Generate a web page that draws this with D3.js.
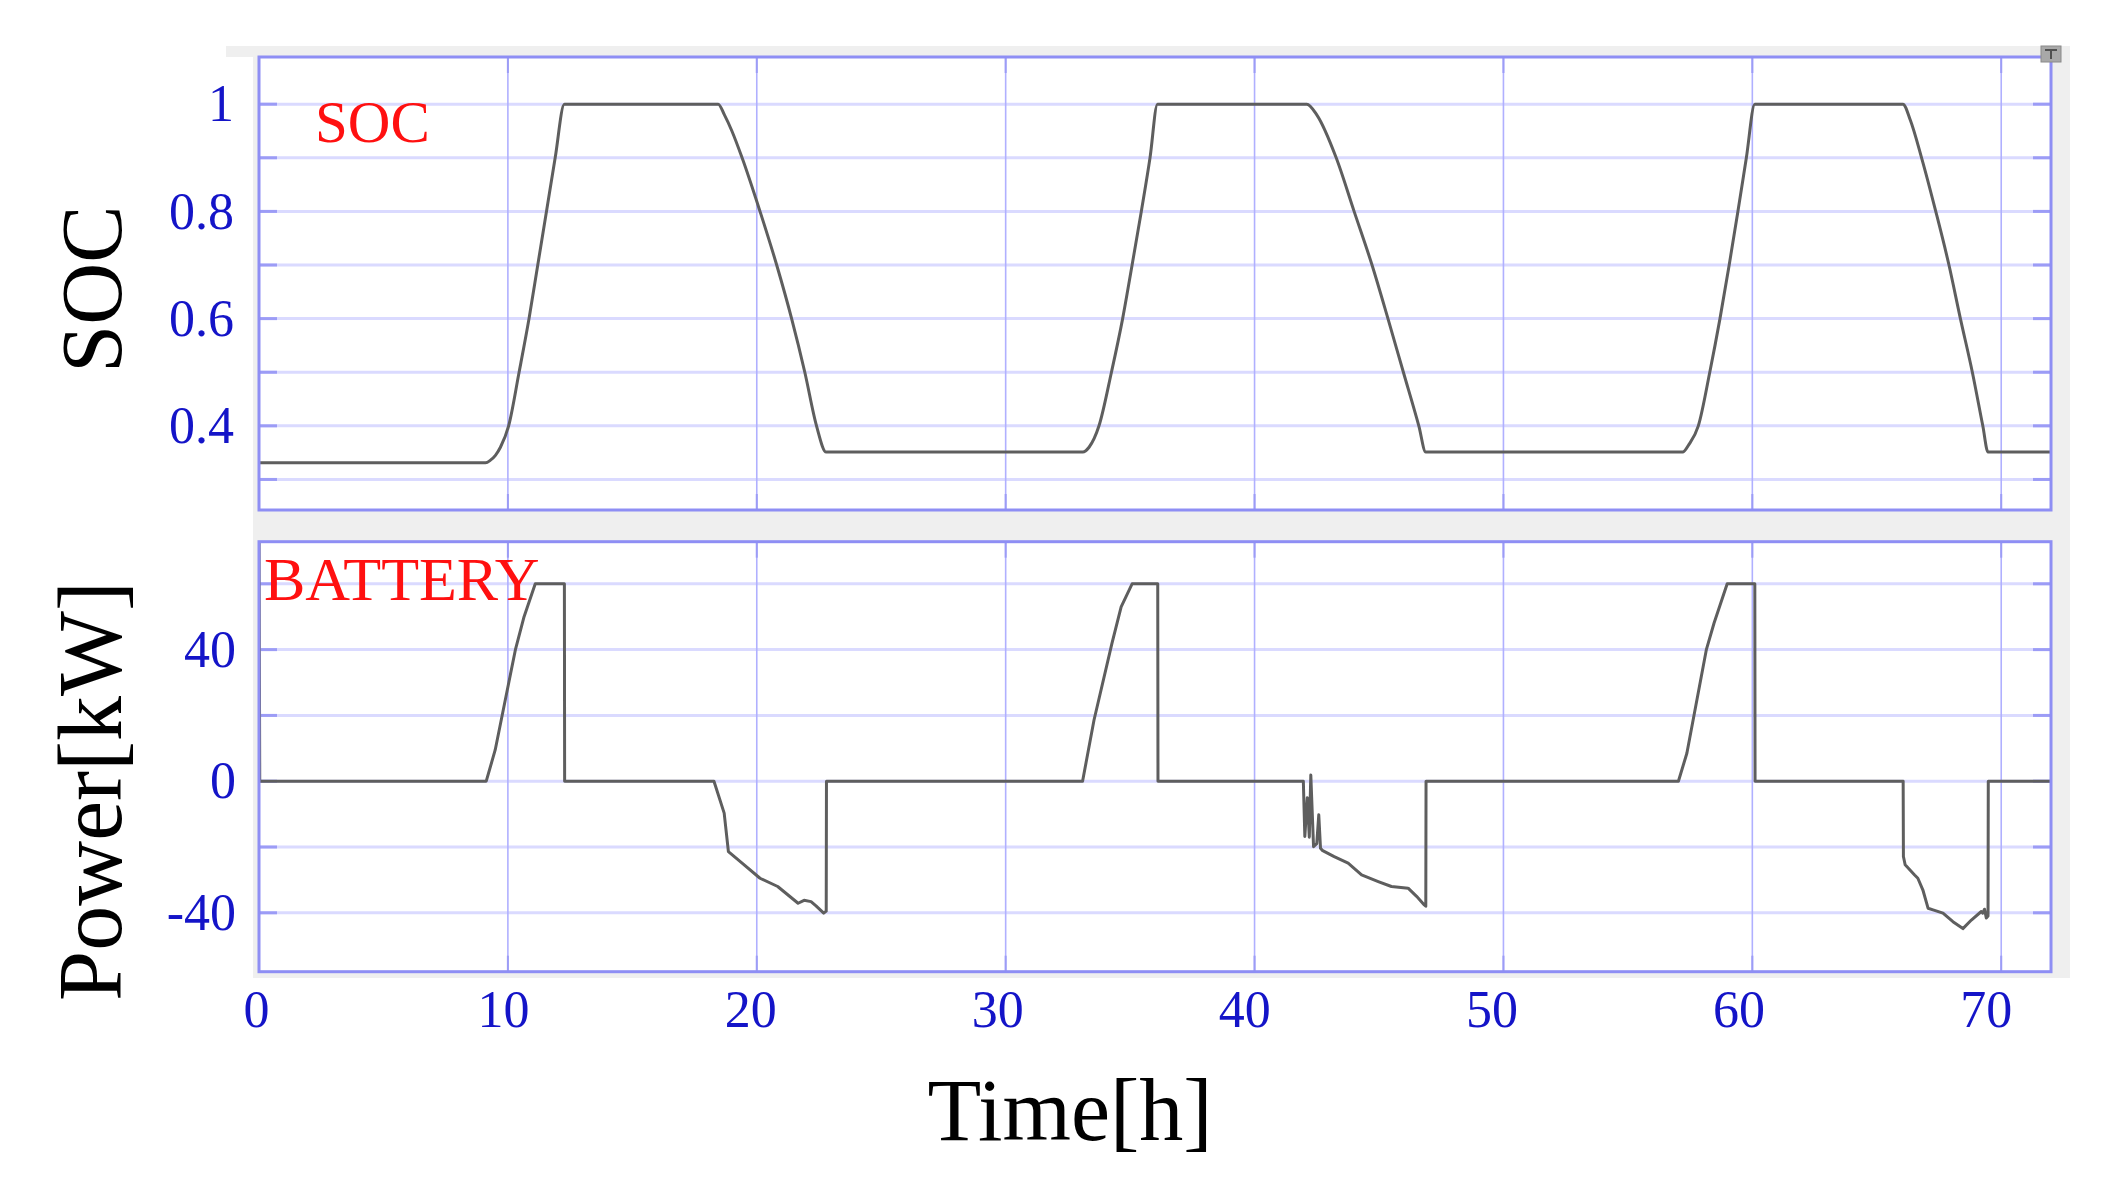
<!DOCTYPE html>
<html>
<head>
<meta charset="utf-8">
<script src="https://cdn.jsdelivr.net/npm/d3@7"></script>
<style>
  html, body { margin: 0; padding: 0; background: #ffffff; }
  svg { display: block; }
</style>
</head>
<body>
<svg id="chart" width="2119" height="1197"></svg>
<script>
// ---------------- data ----------------
const socTime  = [0, 9.1, 9.3, 9.5, 9.7, 10.03, 10.45, 10.85, 11.2, 11.55, 11.9, 12.27,
                  18.45, 18.7, 19.0, 19.41, 20.13, 20.8, 21.4, 21.93, 22.4, 22.79,
                  33.1, 33.35, 33.75, 34.25, 34.7, 35.08, 35.45, 35.8, 36.1,
                  42.1, 42.5, 43.28, 44.0, 44.72, 45.36, 45.98, 46.6, 46.88,
                  57.2, 57.45, 57.83, 58.29, 58.7, 59.07, 59.42, 59.76, 60.1,
                  66.05, 66.35, 66.8, 67.37, 67.9, 68.36, 68.84, 69.26, 69.47, 72];
const socValue = [0.331, 0.331, 0.336, 0.345, 0.36, 0.4, 0.5, 0.6, 0.7, 0.8, 0.9, 1.0,
                  1.0, 0.98, 0.95, 0.9, 0.8, 0.7, 0.6, 0.5, 0.4, 0.351,
                  0.351, 0.36, 0.4, 0.5, 0.6, 0.7, 0.8, 0.9, 1.0,
                  1.0, 0.98, 0.9, 0.8, 0.7, 0.6, 0.5, 0.4, 0.351,
                  0.351, 0.365, 0.4, 0.5, 0.6, 0.7, 0.8, 0.9, 1.0,
                  1.0, 0.97, 0.9, 0.8, 0.7, 0.6, 0.5, 0.4, 0.351, 0.351];

const powerTime  = [0, 0.03, 9.13, 9.49, 10.3, 10.65, 11.1, 12.27, 12.28,
                    18.28, 18.69, 18.86, 19.41, 20.13, 20.84, 21.66, 21.9, 22.18, 22.38, 22.69, 22.79, 22.8,
                    33.09, 33.55, 34.27, 34.64, 35.08, 36.11, 36.12,
                    41.96, 42.02, 42.12, 42.2, 42.26, 42.37, 42.5, 42.58, 42.65, 42.72, 43.2, 43.76, 44.3, 44.97, 45.5, 46.17, 46.51, 46.82, 46.88, 46.89,
                    57.03, 57.37, 58.15, 58.46, 58.99, 60.1, 60.11,
                    66.06, 66.07, 66.14, 66.52, 66.65, 66.85, 67.06, 67.26, 67.66, 68.06, 68.46, 68.8, 69.2, 69.26, 69.33, 69.4, 69.47, 69.48, 72];
const powerValue = [80, 0, 0, 9.5, 39.9, 50, 60, 60, 0,
                    0, -9.7, -21.4, -24.9, -29.5, -32, -37.1, -36.2, -36.6, -37.9, -40.1, -39.5, 0,
                    0, 18.6, 41.9, 53, 60, 60, 0,
                    0, -16.8, -5, -17, 1.9, -19.9, -19, -10.2, -20.4, -21, -22.9, -24.9, -28.5, -30.5, -32, -32.5, -35, -37.6, -38, 0,
                    0, 8.5, 39.9, 48, 60, 60, 0,
                    0, -22.9, -25.4, -28.5, -29.5, -33, -38.6, -39.1, -40.1, -42.7, -44.8, -42.2, -39.6, -40.1, -38.9, -41.6, -41, 0, 0];

const xGrid        = [10, 20, 30, 40, 50, 60, 70];
const xTickLabels  = [0, 10, 20, 30, 40, 50, 60, 70];
const socGrid      = [0.3, 0.4, 0.5, 0.6, 0.7, 0.8, 0.9, 1.0];
const socTickLabels = [0.4, 0.6, 0.8, 1];
const powerGrid    = [-40, -20, 0, 20, 40, 60];
const powerTickLabels = [-40, 0, 40];

// ---------------- layout ----------------
const svg = d3.select("#chart");
const L = 259, R = 2051;
const top1 = 57, bot1 = 510;
const top2 = 541.7, bot2 = 971.7;

const x = d3.scaleLinear().domain([0, 72]).range([L, R]);
const ySoc = d3.scaleLinear().domain([0.243, 1.088]).range([bot1, top1]);
const yPow = d3.scaleLinear().domain([-57.9, 72.8]).range([bot2, top2]);

const serif = "'Liberation Serif', 'Times New Roman', Times, serif";
const gridH = "#dadaff", gridV = "#b0b0ff", stub = "#9c9cf6", border = "#8e8ef4";
const tickBlue = "#1414c8";
const lineColor = "#5e5e5e";

// gray frame
svg.append("rect").attr("x", 226).attr("y", 46).attr("width", 2070 - 226).attr("height", top1 - 46).attr("fill", "#efefef");
svg.append("rect").attr("x", 253).attr("y", 46).attr("width", 2070 - 253).attr("height", 978 - 46).attr("fill", "#efefef");

function panel(name, yScale, grid, y0, y1) {
  const g = svg.append("g");
  g.append("rect").attr("x", L).attr("y", y0).attr("width", R - L).attr("height", y1 - y0).attr("fill", "#ffffff");
  g.selectAll(".hg").data(grid).join("line")
    .attr("x1", L).attr("x2", R).attr("y1", d => yScale(d)).attr("y2", d => yScale(d))
    .attr("stroke", gridH).attr("stroke-width", 3);
  g.selectAll(".vg").data(xGrid).join("line")
    .attr("x1", d => x(d)).attr("x2", d => x(d)).attr("y1", y0).attr("y2", y1)
    .attr("stroke", gridV).attr("stroke-width", 1.6);
  g.selectAll(".hs1").data(grid).join("line")
    .attr("x1", L).attr("x2", L + 18).attr("y1", d => yScale(d)).attr("y2", d => yScale(d))
    .attr("stroke", stub).attr("stroke-width", 3);
  g.selectAll(".hs2").data(grid).join("line")
    .attr("x1", R - 18).attr("x2", R).attr("y1", d => yScale(d)).attr("y2", d => yScale(d))
    .attr("stroke", stub).attr("stroke-width", 3);
  g.selectAll(".vs1").data(xGrid).join("line")
    .attr("x1", d => x(d)).attr("x2", d => x(d)).attr("y1", y0).attr("y2", y0 + 16)
    .attr("stroke", stub).attr("stroke-width", 2);
  g.selectAll(".vs2").data(xGrid).join("line")
    .attr("x1", d => x(d)).attr("x2", d => x(d)).attr("y1", y1 - 16).attr("y2", y1)
    .attr("stroke", stub).attr("stroke-width", 2);
  svg.append("clipPath").attr("id", "clip-" + name).append("rect")
    .attr("x", L).attr("y", y0).attr("width", R - L).attr("height", y1 - y0);
}

panel("soc", ySoc, socGrid, top1, bot1);
panel("pow", yPow, powerGrid, top2, bot2);

// in-panel red labels
svg.append("text").attr("x", 315).attr("y", 142).attr("font-family", serif).attr("font-size", 59)
  .attr("fill", "#ff1010").text("SOC");
svg.append("text").attr("x", 264).attr("y", 600).attr("font-family", serif).attr("font-size", 62)
  .attr("fill", "#ff1010").text("BATTERY");

// lines
const socData = socTime.map((t, i) => [t, socValue[i]]);
const powData = powerTime.map((t, i) => [t, powerValue[i]]);
svg.append("path").datum(socData).attr("clip-path", "url(#clip-soc)")
  .attr("d", d3.line().x(d => x(d[0])).y(d => ySoc(d[1])).curve(d3.curveMonotoneX))
  .attr("fill", "none").attr("stroke", lineColor).attr("stroke-width", 3).attr("stroke-linejoin", "round");
svg.append("path").datum(powData).attr("clip-path", "url(#clip-pow)")
  .attr("d", d3.line().x(d => x(d[0])).y(d => yPow(d[1])))
  .attr("fill", "none").attr("stroke", lineColor).attr("stroke-width", 3).attr("stroke-linejoin", "round");

// borders
[[top1, bot1], [top2, bot2]].forEach(([a, b]) => {
  svg.append("rect").attr("x", L).attr("y", a).attr("width", R - L).attr("height", b - a)
    .attr("fill", "none").attr("stroke", border).attr("stroke-width", 3);
});

// small icon top right
svg.append("rect").attr("x", 2041).attr("y", 46).attr("width", 20).attr("height", 16)
  .attr("fill", "#a8a8a8").attr("stroke", "#8a8a8a").attr("stroke-width", 1);
svg.append("path").attr("d", "M2045,50 H2057 M2051,50 V59").attr("stroke", "#505050").attr("stroke-width", 2).attr("fill", "none");

// tick labels
const fmt = d => String(d);
const ga1 = svg.append("g").attr("transform", "translate(234,0)")
  .call(d3.axisLeft(ySoc).tickValues(socTickLabels).tickFormat(fmt).tickSize(0).tickPadding(0));
const ga2 = svg.append("g").attr("transform", "translate(236,0)")
  .call(d3.axisLeft(yPow).tickValues(powerTickLabels).tickFormat(fmt).tickSize(0).tickPadding(0));
const gx = svg.append("g").attr("transform", "translate(0,990)")
  .call(d3.axisBottom(x).tickValues(xTickLabels).tickFormat(fmt).tickSize(0).tickPadding(0));
gx.selectAll(".tick text").attr("dx", d => -3 - d * 0.18);

[ga1, ga2, gx].forEach(a => {
  a.select(".domain").remove();
  a.selectAll("text").attr("font-family", serif).attr("font-size", 52).attr("fill", tickBlue);
});
gx.selectAll("text").attr("dy", "0.72em");

// axis titles
svg.append("text").attr("transform", "translate(121,289) rotate(-90)").attr("text-anchor", "middle")
  .attr("font-family", serif).attr("font-size", 86).attr("fill", "#000").text("SOC");
svg.append("text").attr("transform", "translate(121,791) rotate(-90)").attr("text-anchor", "middle")
  .attr("font-family", serif).attr("font-size", 90).attr("fill", "#000").text("Power[kW]");
svg.append("text").attr("x", 1070).attr("y", 1140).attr("text-anchor", "middle")
  .attr("font-family", serif).attr("font-size", 88).attr("fill", "#000").text("Time[h]");
</script>
</body>
</html>
